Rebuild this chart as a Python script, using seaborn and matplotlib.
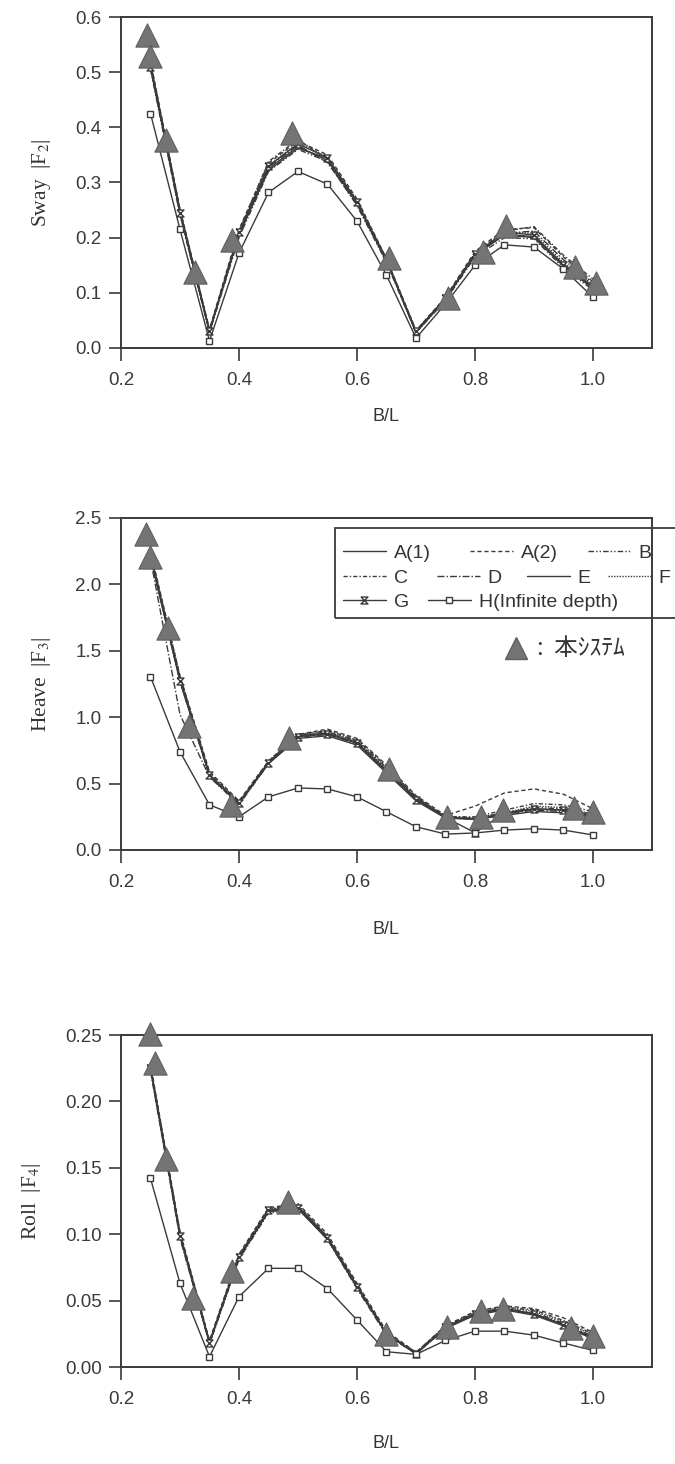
import matplotlib
matplotlib.use("Agg")
import matplotlib.pyplot as plt
import seaborn as sns
from matplotlib.lines import Line2D
from matplotlib.patches import Rectangle

sns.set_theme(style="ticks")
plt.rcParams["font.family"] = ["Liberation Sans", "DejaVu Sans"]
plt.rcParams["mathtext.fontset"] = "stix"

# B/L values at which every method was evaluated
bl = [0.25, 0.30, 0.35, 0.40, 0.45, 0.50, 0.55, 0.60,
      0.65, 0.70, 0.75, 0.80, 0.85, 0.90, 0.95, 1.00]

# ---- Sway |F2| ----
sway_a1 = [0.515, 0.250, 0.032, 0.205, 0.325, 0.365, 0.340, 0.262, 0.158, 0.028, 0.088, 0.168, 0.205, 0.200, 0.148, 0.108]
sway_a2 = [0.520, 0.252, 0.034, 0.215, 0.335, 0.375, 0.350, 0.270, 0.162, 0.032, 0.092, 0.175, 0.215, 0.218, 0.165, 0.120]
sway_b = [0.505, 0.240, 0.028, 0.200, 0.320, 0.360, 0.338, 0.258, 0.155, 0.028, 0.086, 0.165, 0.200, 0.198, 0.145, 0.105]
sway_c = [0.518, 0.248, 0.031, 0.212, 0.338, 0.378, 0.342, 0.268, 0.161, 0.031, 0.091, 0.172, 0.212, 0.220, 0.168, 0.125]
sway_d = [0.512, 0.244, 0.030, 0.208, 0.328, 0.368, 0.336, 0.260, 0.157, 0.029, 0.089, 0.170, 0.208, 0.212, 0.160, 0.118]
sway_e = [0.508, 0.246, 0.029, 0.206, 0.322, 0.362, 0.344, 0.264, 0.159, 0.030, 0.090, 0.169, 0.206, 0.202, 0.152, 0.112]
sway_f = [0.514, 0.249, 0.031, 0.210, 0.330, 0.372, 0.346, 0.266, 0.160, 0.030, 0.090, 0.171, 0.210, 0.208, 0.155, 0.115]
sway_g = [0.510, 0.245, 0.030, 0.210, 0.330, 0.370, 0.345, 0.265, 0.160, 0.030, 0.090, 0.170, 0.210, 0.205, 0.150, 0.110]
sway_h = [0.425, 0.215, 0.013, 0.172, 0.282, 0.320, 0.297, 0.230, 0.132, 0.018, 0.080, 0.150, 0.187, 0.183, 0.143, 0.092]
sway_sys_x = [0.244, 0.250, 0.276, 0.325, 0.388, 0.490, 0.655, 0.754, 0.813, 0.853, 0.970, 1.005]
sway_sys_y = [0.567, 0.530, 0.377, 0.138, 0.196, 0.390, 0.163, 0.090, 0.174, 0.222, 0.147, 0.118]

# ---- Heave |F3| ----
heave_a1 = [2.22, 1.28, 0.56, 0.35, 0.65, 0.84, 0.86, 0.79, 0.58, 0.37, 0.24, 0.23, 0.26, 0.29, 0.28, 0.25]
heave_a2 = [2.25, 1.31, 0.59, 0.37, 0.67, 0.87, 0.91, 0.84, 0.64, 0.41, 0.26, 0.33, 0.43, 0.46, 0.42, 0.31]
heave_b = [2.21, 1.27, 0.55, 0.34, 0.65, 0.86, 0.89, 0.82, 0.62, 0.40, 0.25, 0.24, 0.28, 0.32, 0.31, 0.27]
heave_c = [2.23, 1.30, 0.58, 0.36, 0.66, 0.87, 0.90, 0.83, 0.63, 0.40, 0.25, 0.25, 0.30, 0.35, 0.34, 0.29]
heave_d = [2.19, 1.02, 0.55, 0.35, 0.65, 0.85, 0.87, 0.80, 0.60, 0.39, 0.24, 0.24, 0.27, 0.30, 0.29, 0.26]
heave_e = [2.21, 1.28, 0.56, 0.35, 0.66, 0.86, 0.88, 0.81, 0.60, 0.39, 0.25, 0.23, 0.27, 0.31, 0.30, 0.26]
heave_f = [2.24, 1.31, 0.57, 0.36, 0.67, 0.87, 0.89, 0.82, 0.61, 0.39, 0.25, 0.24, 0.28, 0.33, 0.32, 0.27]
heave_g = [2.20, 1.27, 0.565, 0.354, 0.655, 0.853, 0.873, 0.803, 0.59, 0.38, 0.245, 0.13, 0.28, 0.31, 0.30, 0.26]
heave_h = [1.305, 0.74, 0.34, 0.25, 0.40, 0.467, 0.46, 0.40, 0.288, 0.175, 0.12, 0.128, 0.15, 0.16, 0.15, 0.113]
heave_sys_x = [0.243, 0.250, 0.279, 0.316, 0.387, 0.485, 0.654, 0.753, 0.811, 0.848, 0.967, 1.000]
heave_sys_y = [2.38, 2.21, 1.67, 0.93, 0.34, 0.84, 0.61, 0.25, 0.25, 0.30, 0.315, 0.285]

# ---- Roll |F4| ----
roll_a1 = [0.226, 0.100, 0.019, 0.082, 0.117, 0.119, 0.096, 0.060, 0.025, 0.010, 0.029, 0.039, 0.043, 0.039, 0.031, 0.021]
roll_a2 = [0.228, 0.102, 0.020, 0.085, 0.120, 0.123, 0.100, 0.063, 0.027, 0.011, 0.031, 0.042, 0.046, 0.044, 0.037, 0.026]
roll_b = [0.224, 0.098, 0.017, 0.081, 0.116, 0.119, 0.097, 0.061, 0.025, 0.010, 0.030, 0.040, 0.044, 0.041, 0.033, 0.023]
roll_c = [0.227, 0.101, 0.019, 0.084, 0.119, 0.122, 0.098, 0.062, 0.026, 0.011, 0.031, 0.041, 0.045, 0.043, 0.035, 0.025]
roll_d = [0.223, 0.097, 0.018, 0.082, 0.117, 0.120, 0.096, 0.059, 0.024, 0.010, 0.029, 0.040, 0.043, 0.040, 0.032, 0.022]
roll_e = [0.225, 0.099, 0.018, 0.083, 0.118, 0.121, 0.098, 0.061, 0.025, 0.010, 0.030, 0.040, 0.044, 0.040, 0.032, 0.022]
roll_f = [0.226, 0.100, 0.018, 0.084, 0.119, 0.121, 0.098, 0.061, 0.025, 0.010, 0.030, 0.041, 0.045, 0.042, 0.034, 0.024]
roll_g = [0.225, 0.099, 0.018, 0.083, 0.118, 0.120, 0.097, 0.0605, 0.025, 0.010, 0.030, 0.040, 0.044, 0.040, 0.032, 0.022]
roll_h = [0.142, 0.063, 0.0078, 0.053, 0.0743, 0.0743, 0.059, 0.0354, 0.0115, 0.0095, 0.020, 0.027, 0.027, 0.024, 0.018, 0.0125]
roll_sys_x = [0.250, 0.258, 0.276, 0.322, 0.388, 0.483, 0.650, 0.752, 0.810, 0.848, 0.962, 1.000]
roll_sys_y = [0.251, 0.229, 0.157, 0.052, 0.072, 0.124, 0.025, 0.030, 0.042, 0.044, 0.029, 0.023]

method_names = ["A(1)", "A(2)", "B", "C", "D", "E", "F", "G", "H(Infinite depth)"]

LINE_COLOR = "#3a3a3a"
TRI_FACE = "#747474"
TRI_EDGE = "#606060"

hourglass = [(-1, 1), (1, 1), (-1, -1), (1, -1), (-1, 1)]
styles = {
    "A(1)": dict(linestyle="-"),
    "A(2)": dict(linestyle=(0, (3, 2))),
    "B": dict(linestyle=(0, (4, 1.5, 1, 1.5, 1, 1.5))),
    "C": dict(linestyle=(0, (3, 1.5, 1, 1.5))),
    "D": dict(linestyle=(0, (5, 1.5, 1, 1.5))),
    "E": dict(linestyle="-"),
    "F": dict(linestyle=(0, (1, 1))),
    "G": dict(linestyle="-", marker=hourglass, markersize=5,
              markerfacecolor="white", markeredgecolor=LINE_COLOR, markeredgewidth=1.0),
    "H(Infinite depth)": dict(linestyle="-", marker="s", markersize=5,
                              markerfacecolor="white", markeredgecolor=LINE_COLOR,
                              markeredgewidth=1.0),
}

panels = [
    dict(series=[sway_a1, sway_a2, sway_b, sway_c, sway_d, sway_e, sway_f, sway_g, sway_h],
         sx=sway_sys_x, sy=sway_sys_y, ylim=(0, 0.6), yticks=[0, 0.1, 0.2, 0.3, 0.4, 0.5, 0.6],
         yfmt="{:.1f}", ylabel=r"Sway  |F$_2$|", top_px=17, bot_px=348, xpad=14),
    dict(series=[heave_a1, heave_a2, heave_b, heave_c, heave_d, heave_e, heave_f, heave_g, heave_h],
         sx=heave_sys_x, sy=heave_sys_y, ylim=(0, 2.5), yticks=[0, 0.5, 1.0, 1.5, 2.0, 2.5],
         yfmt="{:.1f}", ylabel=r"Heave  |F$_3$|", top_px=518, bot_px=850, xpad=22),
    dict(series=[roll_a1, roll_a2, roll_b, roll_c, roll_d, roll_e, roll_f, roll_g, roll_h],
         sx=roll_sys_x, sy=roll_sys_y, ylim=(0, 0.25), yticks=[0, 0.05, 0.10, 0.15, 0.20, 0.25],
         yfmt="{:.2f}", ylabel=r"Roll  |F$_4$|", top_px=1035, bot_px=1367, xpad=20),
]

W, H = 675, 1464
fig = plt.figure(figsize=(W / 100, H / 100), dpi=100)
fig.patch.set_facecolor("white")

LEFT_PX, RIGHT_PX = 121, 652
xticks = [0.2, 0.4, 0.6, 0.8, 1.0]

for p in panels:
    ax = fig.add_axes([LEFT_PX / W, 1 - p["bot_px"] / H,
                       (RIGHT_PX - LEFT_PX) / W, (p["bot_px"] - p["top_px"]) / H])
    ax.set_facecolor("white")
    for name, vals in zip(method_names, p["series"]):
        sns.lineplot(x=bl, y=vals, ax=ax, color=LINE_COLOR, linewidth=1.0,
                     sort=False, errorbar=None, legend=False, **styles[name])
    sns.scatterplot(x=p["sx"], y=p["sy"], ax=ax, marker="^", s=280,
                    color=TRI_FACE, edgecolor=TRI_EDGE, linewidth=0.8,
                    zorder=6, legend=False, clip_on=False)
    ax.set_xlim(0.2, 1.1)
    ax.set_ylim(*p["ylim"])
    ax.set_xticks(xticks)
    ax.set_xticklabels([f"{t:.1f}" for t in xticks])
    ax.set_yticks(p["yticks"])
    ax.set_yticklabels([p["yfmt"].format(t) for t in p["yticks"]])
    for s in ax.spines.values():
        s.set_visible(True)
        s.set_color("#3a3a3a")
        s.set_linewidth(1.4)
    ax.tick_params(axis="both", direction="out", length=9, width=1.2,
                   colors="#3a3a3a", labelsize=13.5)
    ax.tick_params(axis="x", pad=8)
    ax.tick_params(axis="y", pad=5)
    ax.set_xlabel("B/L", fontsize=13, color="#333333", labelpad=p["xpad"])
    ax.set_ylabel(p["ylabel"], fontsize=15.5, color="#333333", labelpad=16,
                  family=["Liberation Serif", "DejaVu Serif"])

# Legend for the method curves: each key placed on its row inside one frame
legend_keys = [
    ("A(1)", 343, 553), ("A(2)", 470, 553), ("B", 588, 553),
    ("C", 343, 578), ("D", 437, 578), ("E", 527, 578), ("F", 608, 578),
    ("G", 343, 602), ("H(Infinite depth)", 428, 602),
]
for name, xpx, ypx in legend_keys:
    handle = Line2D([], [], color=LINE_COLOR, linewidth=1.0, label=name, **styles[name])
    fig.legend(handles=[handle], loc="center left", bbox_to_anchor=(xpx / W, 1 - ypx / H),
               frameon=False, fontsize=14, handlelength=2.2, handletextpad=0.4,
               borderpad=0, borderaxespad=0, labelcolor="#333333")
fig.add_artist(Rectangle((335 / W, 1 - 618 / H), 400 / W, 90 / H, transform=fig.transFigure,
                         facecolor="none", edgecolor="#3a3a3a", linewidth=1.3, zorder=10))

# Marker key for the system results
fig.add_artist(Line2D([516 / W], [1 - 648 / H], transform=fig.transFigure, marker="^",
                      markersize=16, color=TRI_FACE, markeredgecolor=TRI_EDGE, linestyle="none"))
fig.text(537 / W, 1 - 648 / H, ":  本ｼｽﾃﾑ", fontsize=17, color="#333333", va="center", ha="left",
         family=["Noto Sans CJK JP", "DejaVu Sans"])

fig.savefig("out.png", dpi=100)
